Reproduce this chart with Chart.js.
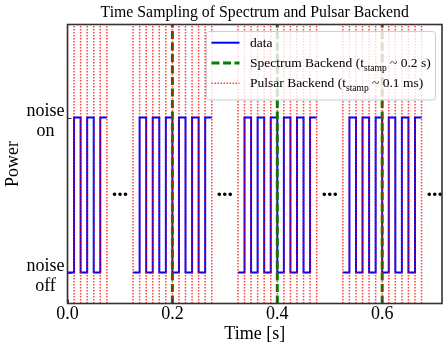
<!DOCTYPE html>
<html>
<head>
<meta charset="utf-8">
<script src="https://cdn.jsdelivr.net/npm/chart.js@4.4.0/dist/chart.umd.min.js"></script>
<style>
  html, body { margin: 0; padding: 0; background: #fff; }
  canvas { display: block; }
</style>
</head>
<body>
<canvas id="chart" width="448" height="350"></canvas>
<script>
// noise diode square wave: switching times (s) and power level (0 = off, 1 = on)
// a null level breaks the trace between the sampled groups
const waveTimes = [
    0, 0.0125, 0.025, 0.0375, 0.05, 0.0625, 0.075, 0.1,
    0.125, 0.1375, 0.15, 0.1625, 0.175, 0.1875, 0.2, 0.2125, 0.225, 0.2375, 0.25, 0.2625, 0.275, 0.3,
    0.325, 0.3375, 0.35, 0.3625, 0.375, 0.3875, 0.4, 0.4125, 0.425, 0.4375, 0.45, 0.4625, 0.475, 0.5,
    0.525, 0.5375, 0.55, 0.5625, 0.575, 0.5875, 0.6, 0.6125, 0.625, 0.6375, 0.65, 0.6625, 0.675
];
const waveLevels = [
    0, 1, 0, 1, 0, 1, 1, null,
    0, 1, 0, 1, 0, 1, 0, 1, 0, 1, 0, 1, 1, null,
    0, 1, 0, 1, 0, 1, 0, 1, 0, 1, 0, 1, 1, null,
    0, 1, 0, 1, 0, 1, 0, 1, 0, 1, 0, 1, 1
];

// spectrum backend time stamps (s)
const spectrumTimes = [0.2, 0.4, 0.6];

// pulsar backend time stamps (s)
const pulsarTimes = [
    0, 0.0125, 0.025, 0.0375, 0.05, 0.0625, 0.075,
    0.125, 0.1375, 0.15, 0.1625, 0.175, 0.1875, 0.2, 0.2125, 0.225, 0.2375, 0.25, 0.2625, 0.275,
    0.325, 0.3375, 0.35, 0.3625, 0.375, 0.3875, 0.4, 0.4125, 0.425, 0.4375, 0.45, 0.4625, 0.475,
    0.525, 0.5375, 0.55, 0.5625, 0.575, 0.5875, 0.6, 0.6125, 0.625, 0.6375, 0.65, 0.6625, 0.675
];

// "..." markers between groups
const gapTimes = [0.1, 0.3, 0.5, 0.7];
const gapLevel = 0.5;

// axes
const xMin = 0, xMax = 0.714;
const yMin = -0.2, yMax = 1.6;
const xTickValues = [0, 0.2, 0.4, 0.6];
const yTickValues = [0, 1];
const yTickLabels = [['noise', 'off'], ['noise', 'on']];

const TITLE = 'Time Sampling of Spectrum and Pulsar Backend';
const SERIF = "'Liberation Serif', 'Times New Roman', serif";
const SPINE = '#333333';
const RED_DOT = 'rgba(255,0,0,0.75)';

// vertical lines spanning the whole y range, separated by gaps
function verticalLines(times) {
    const pts = [];
    times.forEach(function(t) {
        pts.push({x: t, y: yMin}, {x: t, y: yMax}, {x: t, y: null});
    });
    return pts;
}

const wavePoints = waveTimes.map(function(t, i) {
    return {x: t, y: waveLevels[i]};
});

// legend entries, drawn by hand so the subscript can be rendered
const legendEntries = [
    {color: '#0000ff', width: 2, dash: [], parts: [['data', false]]},
    {color: '#008000', width: 3, dash: [8, 3.5],
     parts: [['Spectrum Backend (t', false], ['stamp', true], [' ~ 0.2 s)', false]]},
    {color: RED_DOT, width: 1.5, dash: [1.5, 1.5],
     parts: [['Pulsar Backend (t', false], ['stamp', true], [' ~ 0.1 ms)', false]]}
];

const decorPlugin = {
    id: 'decor',
    afterDatasetsDraw: function(chart) {
        const ctx = chart.ctx;
        const area = chart.chartArea;
        const xs = chart.scales.x;
        const ys = chart.scales.y;

        ctx.save();

        // title, centred over the axes box
        ctx.fillStyle = '#000';
        ctx.font = '15.8px ' + SERIF;
        ctx.textAlign = 'center';
        ctx.textBaseline = 'alphabetic';
        ctx.fillText(TITLE, (area.left + area.right) / 2, 16.5);

        // "..." between groups
        ctx.font = 'bold 22px ' + SERIF;
        gapTimes.forEach(function(t) {
            ctx.fillText('...', xs.getPixelForValue(t), ys.getPixelForValue(gapLevel) + 1);
        });

        // frame
        ctx.strokeStyle = SPINE;
        ctx.lineWidth = 1.6;
        ctx.setLineDash([]);
        ctx.strokeRect(area.left, area.top, area.right - area.left, area.bottom - area.top);

        // inward tick marks
        ctx.lineWidth = 1;
        ctx.beginPath();
        xTickValues.forEach(function(v) {
            const px = Math.round(xs.getPixelForValue(v)) + 0.5;
            ctx.moveTo(px, area.bottom);
            ctx.lineTo(px, area.bottom - 4);
        });
        yTickValues.forEach(function(v) {
            const py = Math.round(ys.getPixelForValue(v)) + 0.5;
            ctx.moveTo(area.left, py);
            ctx.lineTo(area.left + 4, py);
        });
        ctx.stroke();

        // legend box
        const bx = area.right - 235.5;
        const by = area.top + 7;
        const bw = 229;
        const bh = 68.5;
        ctx.beginPath();
        ctx.roundRect(bx, by, bw, bh, 3);
        ctx.fillStyle = 'rgba(255,255,255,0.8)';
        ctx.fill();
        ctx.strokeStyle = '#cccccc';
        ctx.lineWidth = 1;
        ctx.stroke();

        legendEntries.forEach(function(entry, i) {
            const rowY = by + 11.2 + i * 20.3;
            ctx.beginPath();
            ctx.strokeStyle = entry.color;
            ctx.lineWidth = entry.width;
            ctx.setLineDash(entry.dash);
            ctx.moveTo(bx + 5, rowY);
            ctx.lineTo(bx + 33, rowY);
            ctx.stroke();
            ctx.setLineDash([]);

            let tx = bx + 43.5;
            ctx.fillStyle = '#000';
            ctx.textAlign = 'left';
            ctx.textBaseline = 'alphabetic';
            entry.parts.forEach(function(part) {
                const sub = part[1];
                ctx.font = (sub ? '9.5px ' : '13.5px ') + SERIF;
                ctx.fillText(part[0], tx, rowY + 4 + (sub ? 3.5 : 0));
                tx += ctx.measureText(part[0]).width;
            });
        });

        ctx.restore();
    }
};

new Chart(document.getElementById('chart').getContext('2d'), {
    type: 'line',
    data: {
        datasets: [{
            label: 'data',
            data: wavePoints,
            borderColor: '#0000ff',
            borderWidth: 2,
            stepped: true,
            pointRadius: 0,
            fill: false,
            spanGaps: false,
            order: 2
        }, {
            label: 'Spectrum Backend',
            data: verticalLines(spectrumTimes),
            borderColor: '#008000',
            borderWidth: 3,
            borderDash: [8, 3.5],
            pointRadius: 0,
            fill: false,
            spanGaps: false,
            order: 1
        }, {
            label: 'Pulsar Backend',
            data: verticalLines(pulsarTimes),
            borderColor: RED_DOT,
            borderWidth: 1.5,
            borderDash: [1.5, 1.5],
            pointRadius: 0,
            fill: false,
            spanGaps: false,
            order: 0
        }]
    },
    options: {
        responsive: false,
        animation: false,
        devicePixelRatio: 1,
        layout: {
            padding: {left: 0, right: 6, top: 24.5, bottom: 0}
        },
        plugins: {
            legend: {display: false},
            tooltip: {enabled: false},
            title: {display: false}
        },
        scales: {
            x: {
                type: 'linear',
                min: xMin,
                max: xMax,
                afterBuildTicks: function(scale) {
                    scale.ticks = xTickValues.map(function(v) { return {value: v}; });
                },
                afterFit: function(scale) {
                    scale.height = 46.5;
                },
                grid: {display: false, drawTicks: false},
                border: {display: false},
                ticks: {
                    color: '#000',
                    padding: 0,
                    maxRotation: 0,
                    font: {family: SERIF, size: 18},
                    callback: function(v) { return v.toFixed(1); }
                },
                title: {
                    display: true,
                    text: 'Time [s]',
                    color: '#000',
                    font: {family: SERIF, size: 18},
                    padding: {top: 0, bottom: 5.2}
                }
            },
            y: {
                type: 'linear',
                min: yMin,
                max: yMax,
                afterBuildTicks: function(scale) {
                    scale.ticks = yTickValues.map(function(v) { return {value: v}; });
                },
                afterFit: function(scale) {
                    scale.width = 67.5;
                },
                grid: {display: false, drawTicks: false},
                border: {display: false},
                ticks: {
                    color: '#000',
                    padding: 3,
                    labelOffset: 3.5,
                    crossAlign: 'center',
                    font: {family: SERIF, size: 18, lineHeight: 1.12},
                    callback: function(v) {
                        const i = yTickValues.indexOf(v);
                        return i >= 0 ? yTickLabels[i] : '';
                    }
                },
                title: {
                    display: true,
                    text: 'Power',
                    color: '#000',
                    font: {family: SERIF, size: 18},
                    padding: {top: 2.7, bottom: 0}
                }
            }
        }
    },
    plugins: [decorPlugin]
});
</script>
</body>
</html>
